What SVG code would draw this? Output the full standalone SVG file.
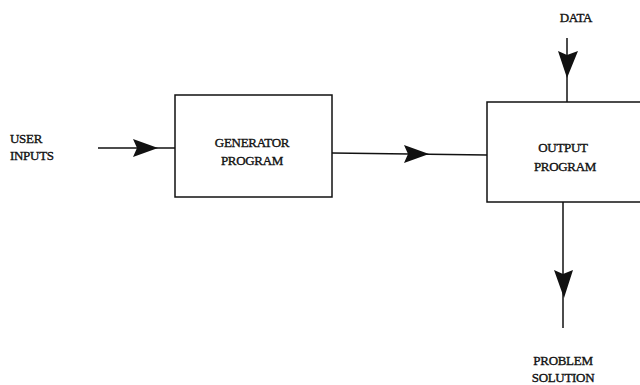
<svg xmlns="http://www.w3.org/2000/svg" width="640" height="385" viewBox="0 0 640 385">
<style>
.box{fill:none;stroke:#111;stroke-width:1.5}
.ln{fill:none;stroke:#111;stroke-width:1.5}
.hd{fill:#111;stroke:none}
text{font-family:"Liberation Serif","DejaVu Serif",serif;font-size:13px;fill:#111;stroke:#111;stroke-width:0.35;letter-spacing:-0.3px}
</style>
<rect width="640" height="385" fill="#fff"/>
<g id="user-inputs">
<text x="10" y="143">USER</text>
<text x="10" y="160">INPUTS</text>
</g>
<g id="generator">
<rect class="box" x="175" y="95" width="157" height="102"/>
<text x="252" y="147" text-anchor="middle">GENERATOR</text>
<text x="252" y="165" text-anchor="middle">PROGRAM</text>
</g>
<g id="output">
<rect class="box" x="487" y="102" width="160" height="100"/>
<text x="563" y="152" text-anchor="middle">OUTPUT</text>
<text x="565" y="171" text-anchor="middle">PROGRAM</text>
</g>
<g id="data">
<text x="576" y="22" text-anchor="middle">DATA</text>
</g>
<g id="problem-solution">
<text x="563" y="365" text-anchor="middle">PROBLEM</text>
<text x="563" y="382" text-anchor="middle">SOLUTION</text>
</g>
<g id="connectors">
<line class="ln" x1="98" y1="148" x2="175" y2="148"/>
<polygon class="hd" points="133,139 158,148 133,157 137,148"/>
<line class="ln" x1="332" y1="153" x2="487" y2="155"/>
<polygon class="hd" points="404,145 429,154 404,163 408,154"/>
<line class="ln" x1="567" y1="38" x2="567" y2="102"/>
<polygon class="hd" points="558,51 567,78 578,51 567,55"/>
<line class="ln" x1="563" y1="202" x2="563" y2="328"/>
<polygon class="hd" points="554,270 564,298 573,270 563,274"/>
</g>
</svg>
